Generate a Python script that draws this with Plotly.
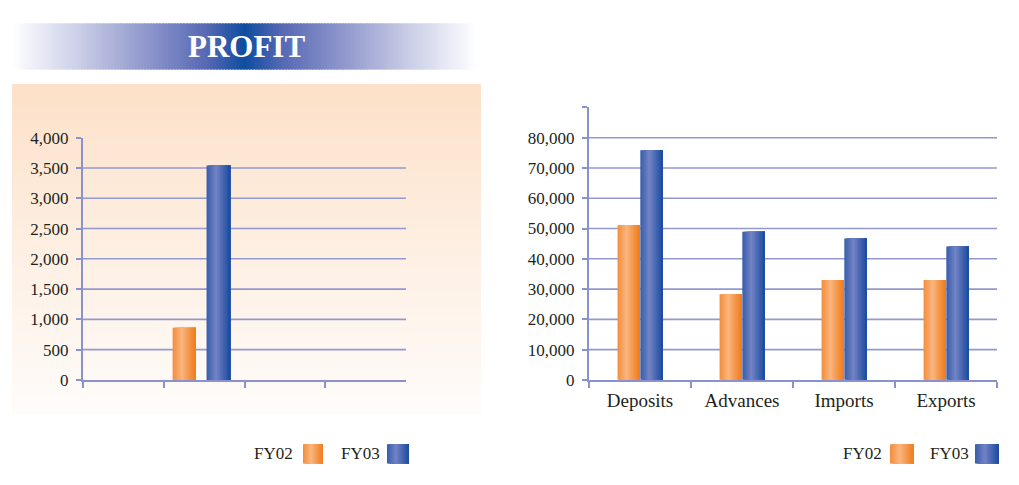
import plotly.graph_objects as go

# ---------------- data ----------------
left_categories = ["c1", "c2", "c3", "c4"]
profit_fy02 = [None, 860, None, None]
profit_fy03 = [None, 3540, None, None]
left_ticks = [0, 500, 1000, 1500, 2000, 2500, 3000, 3500, 4000]

right_categories = ["Deposits", "Advances", "Imports", "Exports"]
business_fy02 = [51100, 28300, 33000, 33000]
business_fy03 = [75900, 48900, 46700, 44100]
right_ticks = [0, 10000, 20000, 30000, 40000, 50000, 60000, 70000, 80000, 90000]

series_names = ["FY02", "FY03"]
title_text = "PROFIT"

# ---------------- style ----------------
W, H = 1019, 485
FONT = "Liberation Serif"
TXT = "#231F20"
AXC = "#8A92CE"
GRIDC = "#9299CF"
ORANGE_DARK, ORANGE_LIGHT = (240, 125, 30), (250, 182, 128)
BLUE_DARK, BLUE_LIGHT = (28, 76, 159), (117, 132, 198)


def px(x):
    return x / W


def py(y):
    return 1 - y / H


def mix(c1, c2, w):
    return tuple(round(a + (b - a) * w) for a, b in zip(c1, c2))


def rgb(c):
    return "rgb(%d,%d,%d)" % c


def bar_color(t, dark, light):
    w = max(0.0, 1 - abs(t - 0.4) / 0.6) ** 1.1
    return rgb(mix(dark, light, w))


fig = go.Figure()
shapes = []
N = 16


def add_gradient_bars(x, y, xa, ya, offset, width, dark, light):
    for i in range(N):
        t = (i + 0.5) / N
        fig.add_trace(go.Bar(
            x=x, y=y, xaxis=xa, yaxis=ya,
            offset=offset + i * width / N, width=width * (1 - i / N),
            marker=dict(color=bar_color(t, dark, light), line=dict(width=0)),
            showlegend=False, hoverinfo="skip"))


# left chart bars
add_gradient_bars(left_categories, profit_fy02, "x", "y", -0.39, 0.285, ORANGE_DARK, ORANGE_LIGHT)
add_gradient_bars(left_categories, profit_fy03, "x", "y", 0.03, 0.295, BLUE_DARK, BLUE_LIGHT)
# right chart bars
add_gradient_bars(right_categories, business_fy02, "x2", "y2", -0.22, 0.218, ORANGE_DARK, ORANGE_LIGHT)
add_gradient_bars(right_categories, business_fy03, "x2", "y2", 0.003, 0.222, BLUE_DARK, BLUE_LIGHT)

# ---------------- decorations ----------------
# title banner gradient
bx0, bx1, by0, by1 = 12, 477, 15, 63
stops = [(0.0, (255, 255, 255)), (0.15, (200, 204, 230)), (0.3, (138, 147, 202)),
         (0.42, (86, 104, 180)), (0.5, (13, 76, 159))]


def banner_color(t):
    t = t if t <= 0.5 else 1 - t
    for (t0, c0), (t1, c1) in zip(stops[:-1], stops[1:]):
        if t0 <= t <= t1:
            return rgb(mix(c0, c1, (t - t0) / (t1 - t0)))
    return rgb(stops[-1][1])


nb = 155
for i in range(nb):
    xa0 = bx0 + (bx1 - bx0) * i / nb
    xa1 = bx0 + (bx1 - bx0) * (i + 1.6) / nb
    shapes.append(dict(type="rect", xref="paper", yref="paper",
                       x0=px(xa0), x1=px(min(xa1, bx1)), y0=py(by1), y1=py(by0),
                       fillcolor=banner_color((i + 0.5) / nb), line=dict(width=0), layer="below"))

# peach background of left chart
px0, px1, py0, py1 = 12, 481, 78, 422
top_c, bot_c = (253, 224, 199), (254, 252, 250)
npch = 86
for i in range(npch):
    ya0 = py0 + (py1 - py0) * i / npch
    ya1 = py0 + (py1 - py0) * (i + 1.6) / npch
    w = (i + 0.5) / npch
    shapes.append(dict(type="rect", xref="paper", yref="paper",
                       x0=px(px0), x1=px(px1), y0=py(min(ya1, py1)), y1=py(ya0),
                       fillcolor=rgb(mix(top_c, bot_c, w ** 0.9)), line=dict(width=0), layer="below"))

# gridlines
for v in left_ticks[1:-1]:
    shapes.append(dict(type="line", xref="x domain", yref="y", x0=0, x1=1, y0=v, y1=v,
                       line=dict(color=GRIDC, width=1.6), layer="below"))
for v in right_ticks[1:-1]:
    shapes.append(dict(type="line", xref="x2 domain", yref="y2", x0=0, x1=1, y0=v, y1=v,
                       line=dict(color=GRIDC, width=1.6), layer="below"))


# legend boxes
def legend_box(x0, x1, y0, y1, dark, light):
    n = 20
    for i in range(n):
        xa = x0 + (x1 - x0) * i / n
        shapes.append(dict(type="rect", xref="paper", yref="paper",
                           x0=px(xa), x1=px(x1), y0=py(y1), y1=py(y0),
                           fillcolor=bar_color((i + 0.5) / n, dark, light),
                           line=dict(width=0), layer="above"))


legend_box(303, 323, 453, 473, ORANGE_DARK, ORANGE_LIGHT)
legend_box(387, 409, 453, 473, BLUE_DARK, BLUE_LIGHT)
legend_box(890, 914, 453, 473, ORANGE_DARK, ORANGE_LIGHT)
legend_box(975, 999, 453, 473, BLUE_DARK, BLUE_LIGHT)

annotations = [
    dict(text="<b>%s</b>" % title_text, x=px(246), y=py(39), xref="paper", yref="paper",
         showarrow=False, font=dict(family=FONT, size=31, color="white"), xanchor="center", yanchor="middle"),
]
for name, xr in [(series_names[0], 295), (series_names[1], 382), (series_names[0], 884), (series_names[1], 971)]:
    annotations.append(dict(text=name, x=px(xr), y=py(463), xref="paper", yref="paper",
                            showarrow=False, xanchor="right", yanchor="middle",
                            font=dict(family=FONT, size=17, color=TXT)))

yax_common = dict(showline=True, linecolor=AXC, linewidth=2, ticks="outside", ticklen=5,
                  tickcolor=AXC, tickwidth=2, showgrid=False, zeroline=False,
                  tickfont=dict(family=FONT, size=17, color=TXT), ticklabelstandoff=4)
xax_common = dict(showline=True, linecolor=AXC, linewidth=2, ticks="outside", ticklen=6,
                  tickcolor=AXC, tickwidth=2, showgrid=False, zeroline=False, tickson="boundaries",
                  type="category")

fig.update_layout(
    width=W, height=H, margin=dict(l=0, r=0, t=0, b=0),
    paper_bgcolor="white", plot_bgcolor="rgba(0,0,0,0)",
    barmode="overlay", showlegend=False,
    xaxis=dict(domain=[px(83), px(406)], anchor="y", showticklabels=False,
               categoryorder="array", categoryarray=left_categories, range=[-0.5, 3.5], **xax_common),
    yaxis=dict(domain=[py(386), py(134)], anchor="x", range=[0, 4000],
               tickvals=left_ticks, ticktext=[f"{v:,}" for v in left_ticks], **yax_common),
    xaxis2=dict(domain=[px(589), px(997)], anchor="y2", ticklabelstandoff=2,
                tickfont=dict(family=FONT, size=19, color=TXT),
                categoryorder="array", categoryarray=right_categories, range=[-0.5, 3.5], **xax_common),
    yaxis2=dict(domain=[py(386), py(102.5)], anchor="x2", range=[0, 90000],
                tickvals=right_ticks, ticktext=[f"{v:,}" if v < 90000 else "" for v in right_ticks],
                **yax_common),
    shapes=shapes, annotations=annotations,
)

fig.write_html("out.html", config={"displayModeBar": False},
               post_script="document.body.style.margin='0';document.body.style.overflow='hidden';")
